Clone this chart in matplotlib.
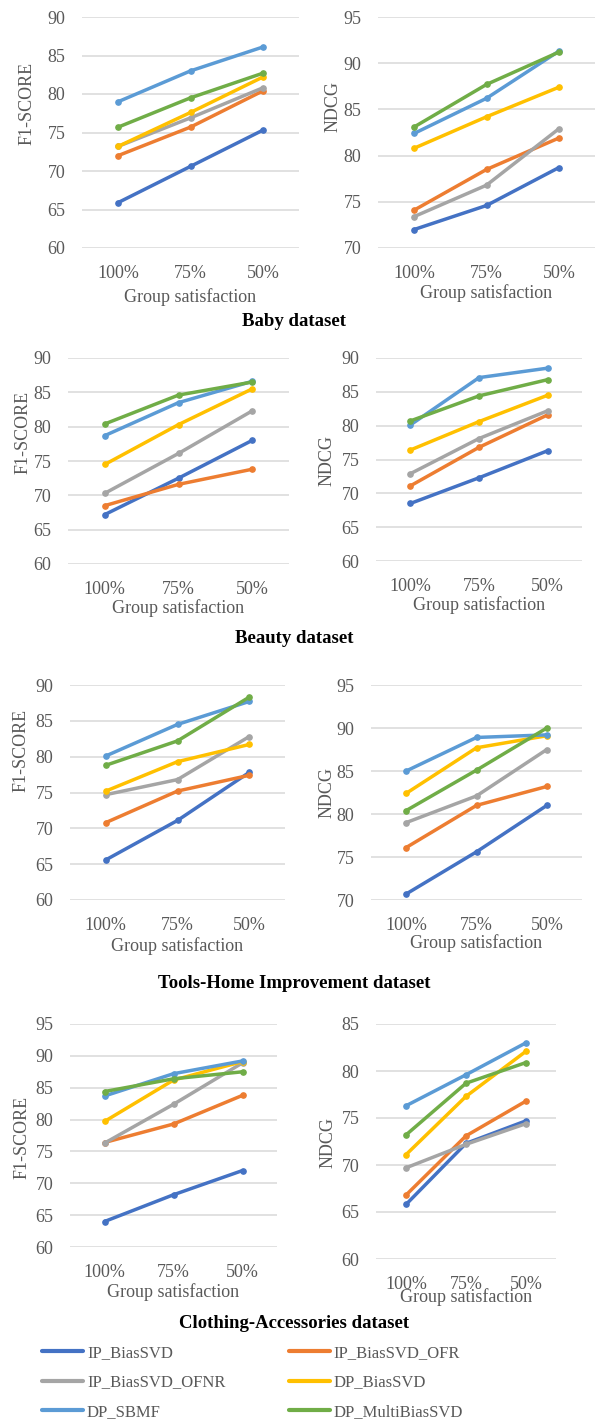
import numpy as np
import matplotlib.pyplot as plt

plt.rcParams['font.family'] = ['Liberation Serif', 'DejaVu Serif']

groups = ['100%', '75%', '50%']
methods = ['IP_BiasSVD', 'IP_BiasSVD_OFR', 'IP_BiasSVD_OFNR',
           'DP_BiasSVD', 'DP_SBMF', 'DP_MultiBiasSVD']
colors = ['#4472C4', '#ED7D31', '#A5A5A5', '#FFC000', '#5B9BD5', '#70AD47']

# one row per method, one column per group satisfaction level
baby_f1 = [[65.9, 70.6, 75.3],
           [72.0, 75.7, 80.4],
           [73.2, 76.9, 80.8],
           [73.2, 77.6, 82.2],
           [79.0, 83.0, 86.1],
           [75.7, 79.5, 82.7]]
baby_ndcg = [[72.0, 74.6, 78.7],
             [74.1, 78.5, 81.9],
             [73.4, 76.8, 82.9],
             [80.8, 84.2, 87.4],
             [82.4, 86.2, 91.3],
             [83.1, 87.7, 91.2]]
beauty_f1 = [[67.2, 72.5, 78.0],
             [68.5, 71.6, 73.8],
             [70.3, 76.1, 82.3],
             [74.5, 80.3, 85.5],
             [78.7, 83.5, 86.6],
             [80.4, 84.6, 86.5]]
beauty_ndcg = [[68.5, 72.3, 76.3],
               [71.1, 76.8, 81.6],
               [72.9, 78.1, 82.2],
               [76.4, 80.6, 84.5],
               [80.1, 87.1, 88.5],
               [80.7, 84.4, 86.8]]
tools_f1 = [[65.6, 71.1, 77.8],
            [70.8, 75.2, 77.4],
            [74.7, 76.8, 82.8],
            [75.2, 79.3, 81.7],
            [80.1, 84.5, 87.7],
            [78.8, 82.2, 88.3]]
tools_ndcg = [[70.7, 75.6, 81.0],
              [76.1, 81.0, 83.2],
              [79.0, 82.1, 87.5],
              [82.4, 87.7, 89.1],
              [85.0, 88.9, 89.2],
              [80.4, 85.1, 90.0]]
clothing_f1 = [[64.0, 68.2, 72.0],
               [76.4, 79.3, 83.8],
               [76.3, 82.4, 88.9],
               [79.7, 86.2, 89.1],
               [83.7, 87.2, 89.2],
               [84.4, 86.4, 87.5]]
clothing_ndcg = [[65.8, 72.3, 74.7],
                 [66.8, 73.1, 76.8],
                 [69.7, 72.2, 74.4],
                 [71.1, 77.3, 82.1],
                 [76.3, 79.6, 83.0],
                 [73.2, 78.7, 80.9]]

W, H = 598, 1421
fig = plt.figure(figsize=(W / 100, H / 100), dpi=100)
GRAY = '#595959'


def add_panel(values, ylabel, ylim, box, ylab_pos, xlab_y):
    # box is (left, top, right, bottom) in pixels
    l, t, r, b = box
    ax = fig.add_axes([l / W, 1 - b / H, (r - l) / W, (b - t) / H])
    x = np.arange(len(groups))
    for row, c, name in zip(values, colors, methods):
        ax.plot(x, row, color=c, lw=2.5, marker='o', ms=3.8,
                solid_capstyle='round', label=name, clip_on=False)
    ax.set_xlim(-0.5, len(groups) - 0.5)
    ax.set_ylim(*ylim)
    ax.set_yticks(np.arange(ylim[0], ylim[1] + 1, 5))
    ax.set_xticks(x, groups)
    ax.grid(axis='y', color='#D9D9D9', lw=1.1)
    ax.set_axisbelow(True)
    for s in ax.spines.values():
        s.set_visible(False)
    ax.tick_params(length=0, labelsize=13, labelcolor=GRAY)
    ax.tick_params(axis='y', pad=12)
    ax.tick_params(axis='x', pad=12)
    ax.set_xlabel('Group satisfaction', fontsize=13, color=GRAY, va='center')
    ax.xaxis.set_label_coords(0.5, (b - xlab_y) / (b - t))
    ax.set_ylabel(ylabel, fontsize=13, color=GRAY, va='center', ha='center')
    ax.yaxis.set_label_coords((ylab_pos[0] - l) / (r - l), (b - ylab_pos[1]) / (b - t))
    return ax


ax = add_panel(baby_f1, 'F1-SCORE', (60, 90), (82, 17, 299, 248), (27, 103), 297)
add_panel(baby_ndcg, 'NDCG', (70, 95), (378, 17, 595, 248), (333, 107), 293)
add_panel(beauty_f1, 'F1-SCORE', (60, 90), (68, 358, 289, 564), (23, 432), 608)
add_panel(beauty_ndcg, 'NDCG', (60, 90), (376, 358, 582, 561), (327, 460), 605)
add_panel(tools_f1, 'F1-SCORE', (60, 90), (70, 685, 285, 900), (21, 750), 946)
add_panel(tools_ndcg, 'NDCG', (70, 95), (371, 685, 582, 900), (327, 793), 943)
add_panel(clothing_f1, 'F1-SCORE', (60, 95), (70, 1024, 277, 1247), (22, 1137), 1292)
add_panel(clothing_ndcg, 'NDCG', (60, 85), (376, 1024, 556, 1259), (328, 1142), 1297)

titles = [('Baby dataset', 322), ('Beauty dataset', 638),
          ('Tools-Home Improvement dataset', 983),
          ('Clothing-Accessories dataset', 1323)]
for text, y in titles:
    fig.text(294 / W, 1 - y / H, text, ha='center', va='center',
             fontsize=13.5, fontweight='bold', color='black')

# legend laid out row by row, two entries per row
handles, labels = ax.get_legend_handles_labels()
order = [0, 2, 4, 1, 3, 5]
leg = fig.legend([handles[i] for i in order], [labels[i] for i in order],
                 ncol=2, loc='upper left', bbox_to_anchor=(42 / W, 1 - 1345 / H),
                 frameon=False, fontsize=12, handlelength=2.45, handletextpad=0.25,
                 columnspacing=3.8, labelspacing=0.8, borderpad=0, borderaxespad=0)
for line in leg.get_lines():
    line.set_marker('')
    line.set_linewidth(3)
for txt in leg.get_texts():
    txt.set_color(GRAY)

fig.savefig('out.png', dpi=100)
